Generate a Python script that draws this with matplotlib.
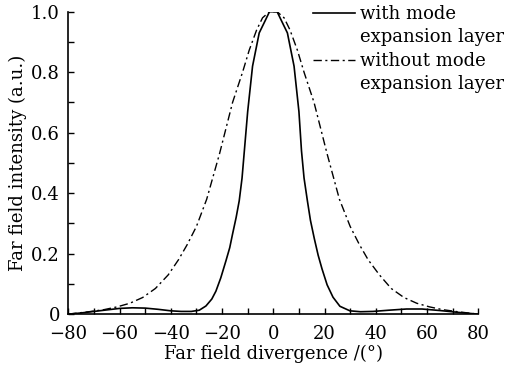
import matplotlib
matplotlib.use("Agg")
import matplotlib.pyplot as plt
from matplotlib.lines import Line2D
from matplotlib.ticker import MultipleLocator, FixedLocator

# far field of the laser
angle_with = [-80, -75, -70, -65, -60, -55, -50, -45, -40, -36, -32, -28.9, -26.3, -24, -22.4,
              -20.5, -18.5, -17, -15.9, -14.5, -13.3, -12.2, -11.3, -10, -8.1, -5.5, -3.2, -1.5,
              0, 1.5, 3.2, 5.5, 8.1, 10, 11, 12, 13.3, 14.5, 16, 17.5, 19, 21, 23.3, 26, 29.9,
              34, 38.9, 45, 52, 58, 65, 72, 80]
int_with = [0.0, 0.004, 0.009, 0.014, 0.019, 0.021, 0.02, 0.016, 0.011, 0.009, 0.009, 0.013, 0.027, 0.05, 0.076,
            0.12, 0.176, 0.22, 0.265, 0.32, 0.375, 0.45, 0.54, 0.67, 0.82, 0.93, 0.97, 1.0,
            1.0, 1.0, 0.97, 0.93, 0.82, 0.67, 0.54, 0.45, 0.375, 0.31, 0.25, 0.195, 0.15, 0.097, 0.056, 0.026, 0.011,
            0.008, 0.009, 0.013, 0.017, 0.017, 0.012, 0.006, 0.0]

angle_without = [-80, -72, -66, -61, -56, -51, -46, -41, -37, -33.6, -30, -26, -21, -15.9, -12, -9.4, -6.5,
                 -4.2, -1.5, 0, 1.5, 4.2, 6.5, 9.4, 12, 15.9, 21, 25.8, 30, 33.6, 37, 41.4,
                 46, 51, 56, 61, 66, 72, 80]
int_without = [0.0, 0.008, 0.015, 0.024, 0.036, 0.055, 0.085, 0.13, 0.18, 0.23, 0.29, 0.38, 0.53, 0.70, 0.80, 0.873, 0.94,
               0.98, 1.0, 1.0, 1.0, 0.98, 0.94, 0.873, 0.80, 0.70, 0.53, 0.38, 0.29, 0.23, 0.18, 0.13,
               0.085, 0.055, 0.036, 0.024, 0.015, 0.008, 0.0]

legend_labels = ["with mode", "expansion layer", "without mode", "expansion layer"]

plt.rcParams['font.family'] = ['DejaVu Serif']
plt.rcParams['font.size'] = 13
plt.rcParams['axes.unicode_minus'] = True

fig = plt.figure(figsize=(5.08, 3.67), dpi=100)
ax = fig.add_axes([0.1345, 0.144, 0.807, 0.824])

ax.plot(angle_with, int_with, color='black', lw=1.2)
ax.plot(angle_without, int_without, color='black', lw=1.0, dashes=(6, 2.5, 1.5, 2.5))

ax.set_xlim(-80, 80)
ax.set_ylim(0, 1)
ax.xaxis.set_major_locator(MultipleLocator(20))
ax.xaxis.set_minor_locator(MultipleLocator(10))
ax.yaxis.set_major_locator(FixedLocator([0, 0.2, 0.4, 0.6, 0.8, 1.0]))
ax.yaxis.set_minor_locator(MultipleLocator(0.1))
ax.set_yticklabels(["0", "0.2", "0.4", "0.6", "0.8", "1.0"])
ax.tick_params(which='both', direction='in', length=4, width=1)
ax.tick_params(axis='x', pad=8)
ax.tick_params(axis='y', pad=6)
ax.spines['top'].set_visible(False)
ax.spines['right'].set_visible(False)
ax.spines['left'].set_linewidth(1.2)
ax.spines['bottom'].set_linewidth(1.2)

ax.set_xlabel("Far field divergence /(°)", labelpad=1)
ax.set_ylabel("Far field intensity (a.u.)", labelpad=3)

handles = [Line2D([], [], color='black', lw=1.2),
           Line2D([], [], color='none'),
           Line2D([], [], color='black', lw=1.0, dashes=(6, 2.5, 1.5, 2.5)),
           Line2D([], [], color='none')]
ax.legend(handles, legend_labels, loc='upper left', bbox_to_anchor=(313 / 508, 1 - 5 / 367),
          bbox_transform=fig.transFigure, frameon=False, borderpad=0, borderaxespad=0,
          handlelength=2.35, handletextpad=0.28, labelspacing=0.3, fontsize=13)

fig.savefig("out.png", dpi=100)
